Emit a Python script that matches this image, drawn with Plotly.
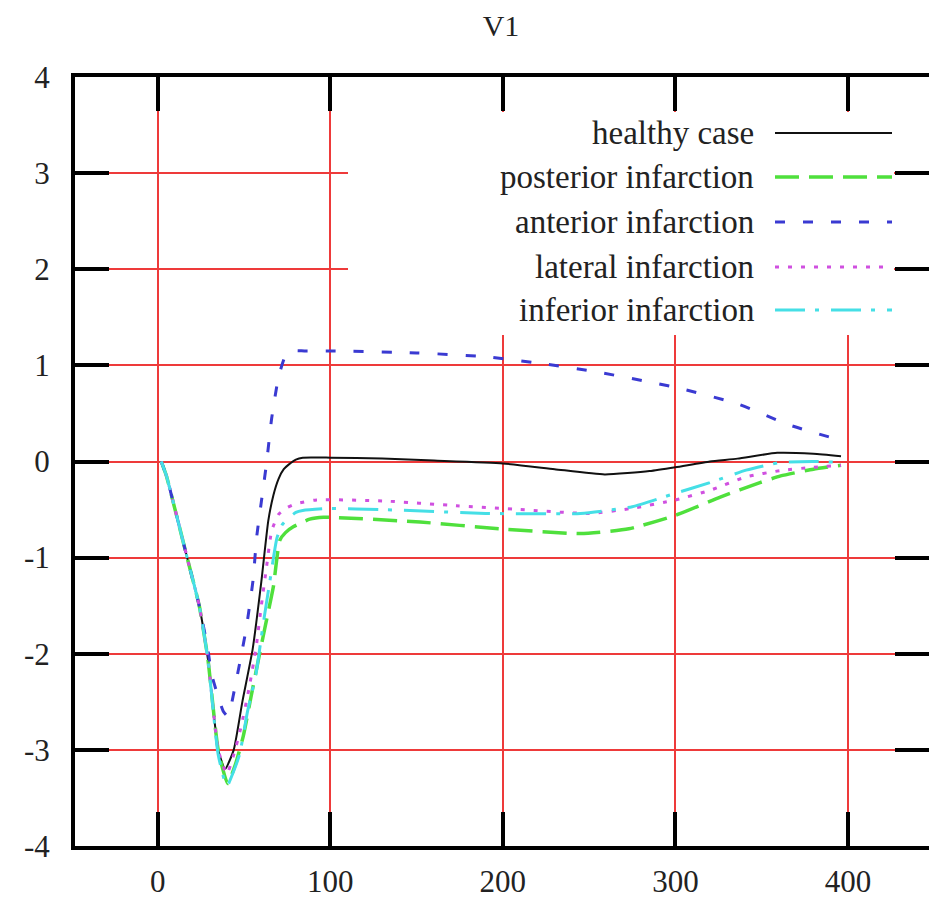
import plotly.graph_objects as go

# ---- V1 lead potential for the five simulated cases ----
t_healthy = [2, 5, 10, 17, 24, 29, 35, 39, 44, 49, 55, 60, 64, 67, 70, 73, 76, 80, 84, 100,
             130, 160, 200, 230, 259, 285, 300, 320, 336, 359, 380, 396]
v_healthy = [0, -0.15, -0.5, -1.0, -1.5, -2.05, -3.0, -3.2, -3.0, -2.5, -1.95, -1.25, -0.62,
             -0.35, -0.18, -0.08, -0.03, 0.02, 0.04, 0.04, 0.03, 0.01, -0.02, -0.08, -0.135,
             -0.1, -0.06, 0.0, 0.03, 0.09, 0.08, 0.055]

t_posterior = [2, 5, 10, 17, 24, 29, 35, 40.5, 45, 49.5, 54, 59, 63, 67, 70.7, 74, 78.5, 88,
               96, 152, 198, 245, 273, 300, 326, 349, 361, 380, 396]
v_posterior = [0, -0.15, -0.5, -1.0, -1.5, -2.05, -3.0, -3.35, -3.15, -2.86, -2.45, -2.0,
               -1.65, -1.3, -0.82, -0.74, -0.68, -0.6, -0.58, -0.63, -0.70, -0.75, -0.70,
               -0.56, -0.37, -0.22, -0.15, -0.08, -0.04]

t_anterior = [2, 5, 10, 17, 24, 29, 31, 35, 38, 40.5, 42, 45, 48, 51.4, 55.3, 57.2, 60, 63,
              66, 70, 74, 78, 85, 100, 150, 190, 222, 255, 287, 303, 336, 366, 396]
v_anterior = [0, -0.15, -0.5, -1.0, -1.5, -1.95, -2.2, -2.45, -2.6, -2.65, -2.58, -2.32,
              -2.05, -1.72, -1.22, -0.8, -0.42, -0.02, 0.45, 0.88, 1.1, 1.15, 1.15, 1.15,
              1.13, 1.09, 1.02, 0.93, 0.82, 0.76, 0.60, 0.38, 0.22]

t_lateral = [2, 5, 10, 17, 24, 29, 35, 40, 44, 48, 53, 57, 60, 63, 66, 70, 75, 80, 92, 130,
             173, 210, 250, 274, 300, 320, 341, 361, 380, 396]
v_lateral = [0, -0.15, -0.5, -1.0, -1.5, -2.05, -3.0, -3.25, -3.05, -2.78, -2.35, -1.93,
             -1.5, -1.1, -0.72, -0.55, -0.48, -0.44, -0.40, -0.41, -0.46, -0.5, -0.54, -0.49,
             -0.40, -0.3, -0.16, -0.094, -0.06, -0.04]

t_inferior = [2, 5, 10, 17, 24, 29, 35, 40, 44, 47.5, 52, 57, 61, 65, 69, 72, 75, 80, 84, 98,
              130, 190, 245, 275, 300, 320, 341, 361, 380, 396]
v_inferior = [0, -0.15, -0.5, -1.0, -1.5, -2.05, -3.05, -3.38, -3.22, -3.04, -2.6, -2.2,
              -1.7, -1.24, -0.8, -0.66, -0.6, -0.53, -0.51, -0.49, -0.5, -0.54, -0.54, -0.47,
              -0.33, -0.22, -0.09, -0.01, 0.0, -0.01]

labels = ["healthy case", "posterior infarction", "anterior infarction",
          "lateral infarction", "inferior infarction"]

x_ticks = [0, 100, 200, 300, 400]
y_ticks = [-4, -3, -2, -1, 0, 1, 2, 3, 4]
y_tick_text = ["-4", "-3", "-2", "-1", "0", "1", "2", "3", "4"]

colors = ["#111111", "#4fe03c", "#3a3ad2", "#d050e0", "#45dfe6"]
dashes = ["solid", "24px,10px", "10px,18px", "4px,9px", "30px,10px,4px,12px"]
widths = [2, 3.5, 3, 3, 3]

series = [(t_healthy, v_healthy), (t_posterior, v_posterior), (t_anterior, v_anterior),
          (t_lateral, v_lateral), (t_inferior, v_inferior)]

SERIF = "Liberation Serif"
W, H = 929, 899
ML, MR, MT, MB = 75, 0, 77, 53


def px_x(p):
    return (p - ML) / (W - ML - MR)


def px_y(p):
    return (H - MB - p) / (H - MT - MB)


fig = go.Figure()
for (t, v), name, c, d, w in zip(series, labels, colors, dashes, widths):
    fig.add_trace(go.Scatter(
        x=t, y=v, mode="lines", name=name, showlegend=False,
        line=dict(color=c, dash=d, width=w, shape="spline", smoothing=0.5),
    ))

axis_common = dict(
    automargin=False,
    showline=True, linecolor="black", linewidth=4, mirror="ticks",
    ticks="inside", ticklen=34, tickwidth=4, tickcolor="black",
    showgrid=True, gridcolor="#ee3a3a", gridwidth=2, zeroline=False,
    tickfont=dict(family=SERIF, size=31, color="#222"),
)

fig.update_xaxes(range=[-48, 447], tickvals=x_ticks, ticklabelstandoff=5, **axis_common)
fig.update_yaxes(range=[-4, 4], tickvals=y_ticks, ticktext=y_tick_text,
                 ticklabelstandoff=15, **axis_common)

# key area: blank out the grid behind the key (ticks stay clear of it)
fig.add_shape(type="rect", xref="paper", yref="paper", layer="above",
              x0=px_x(348), x1=px_x(894), y0=px_y(335), y1=px_y(112),
              fillcolor="white", line=dict(width=0))

# key entries: right-aligned text followed by a line sample
row_y = [133, 177, 222, 267, 310]
for name, c, d, w, ry in zip(labels, colors, dashes, widths, row_y):
    fig.add_annotation(x=px_x(756), y=px_y(ry), xref="paper", yref="paper",
                       xanchor="right", yanchor="middle", text=name, showarrow=False,
                       font=dict(family=SERIF, size=33, color="#222"))
    fig.add_shape(type="line", xref="paper", yref="paper", layer="above",
                  x0=px_x(775), x1=px_x(892), y0=px_y(ry), y1=px_y(ry),
                  line=dict(color=c, dash=d, width=w))

fig.update_layout(
    template="none",
    width=W, height=H,
    margin=dict(l=ML, r=MR, t=MT, b=MB, autoexpand=False),
    paper_bgcolor="white", plot_bgcolor="white",
    title=dict(text="V1", x=501 / W, y=1 - 25 / H, xref="container", yref="container",
               xanchor="center", yanchor="middle",
               font=dict(family=SERIF, size=30, color="#222")),
    showlegend=False,
)

fig.write_html("out.html")
